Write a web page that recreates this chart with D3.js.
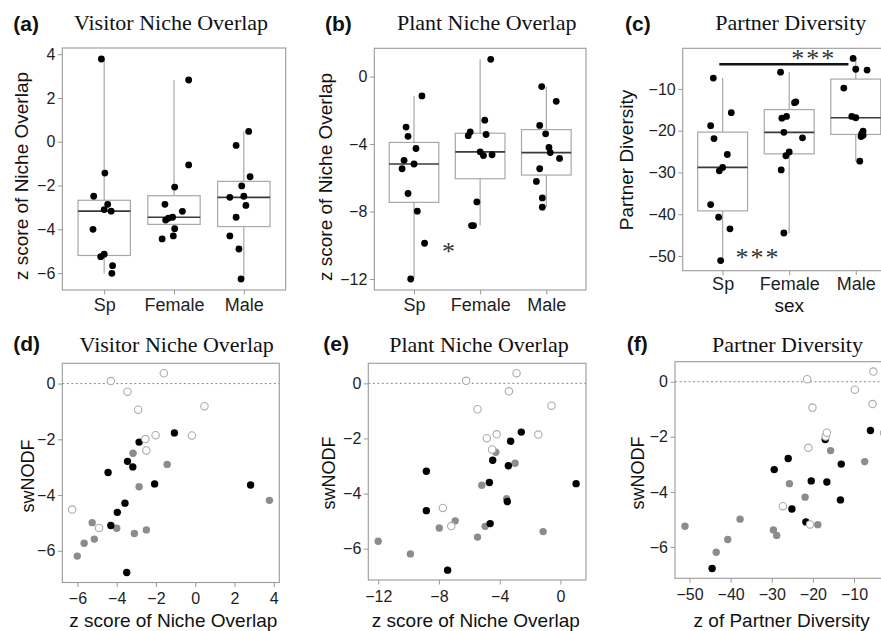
<!DOCTYPE html>
<html><head><meta charset="utf-8">
<script src="https://cdn.jsdelivr.net/npm/d3@7"></script>
<style>body{margin:0;background:#fff} svg{display:block;background:#fff}</style>
</head><body>
<svg id="chart" width="881" height="631"></svg>
<script>
// ---------------- DATA ----------------
const groups = ["Sp", "Female", "Male"];
const sexLabels = ["Sp", "Female", "Male"];

// Sp (grey points in the lower panels)
const spVisitor = [-3.17, -1.43, -2.86, 3.78, -5.25, -4.00, -2.49, -3.10, -5.14, -5.66, -6.01];
const spPlant   = [-4.26, -2.99, -5.18, -3.54, -6.93, -4.96, -7.98, -1.14, -5.46, -12.0, -9.88];
const spPartner = [-15.7, -7.4, -25.7, -21.9, -37.7, -18.8, -51.1, -29.6, -28.8, -40.7, -43.5];
const spSwnodf  = [-2.50, -2.90, -3.70, -4.19, -4.99, -5.19, -5.25, -5.38, -5.58, -5.73, -6.19];
const spJitA = [0.10, 0.01, 0.05, -0.04, -0.05, -0.16, -0.15, 0.00, 0.00, 0.12, 0.11];
const spJitB = [0.03, -0.12, 0.00, -0.09, -0.09, -0.15, 0.05, 0.12, -0.18, -0.05, 0.16];
const spJitC = [0.13, -0.14, 0.07, -0.13, -0.18, -0.18, -0.03, -0.05, 0.00, -0.06, 0.11];

// Female (black points)
const femVisitor = [-1.06, -2.86, -3.45, -3.18, -4.44, -2.07, 2.82, -3.58, -3.97, -4.30, -3.49];
const femPlant   = [-2.58, -3.28, -4.46, -3.43, -8.83, -4.68, 1.03, -3.50, -8.83, -4.63, -7.43];
const femPartner = [-6.0, -17.0, -26.0, -13.1, -29.4, -20.4, -16.6, -13.3, -25.1, -21.7, -44.5];
const femSwnodf  = [-1.77, -2.10, -2.79, -2.99, -3.19, -3.60, -3.64, -4.29, -4.62, -5.09, -6.78];
const femJitA = [0.21, -0.13, -0.02, 0.12, -0.17, 0.01, 0.21, -0.12, 0.01, -0.01, -0.08];
const femJitB = [0.07, -0.15, 0.00, 0.09, -0.13, 0.05, 0.16, -0.18, -0.10, 0.18, -0.05];
const femJitC = [-0.13, -0.11, -0.05, 0.10, -0.12, -0.08, -0.04, 0.08, 0.00, 0.20, -0.08];

// Male (open points)
const maleVisitor = [-4.30, -1.60, -3.45, -2.91, 0.47, -2.54, -2.02, -0.17, -2.49, -6.27, -4.90];
const malePlant   = [-6.21, -2.89, -3.39, -5.46, -0.59, -4.85, -4.20, -1.46, -4.50, -7.74, -7.19];
const malePartner = [-21.4, -5.3, -9.8, -20.1, -5.5, -16.9, -16.6, -2.7, -21.1, -27.3, -20.7];
const maleSwnodf  = [0.09, 0.37, -0.29, -0.94, -0.81, -1.99, -1.85, -1.86, -2.40, -4.52, -5.18];
const maleJitA = [-0.20, 0.09, -0.11, 0.03, 0.07, -0.20, -0.03, -0.11, 0.00, -0.04, -0.07];
const maleJitB = [-0.15, -0.10, -0.01, -0.10, -0.07, 0.20, 0.04, 0.15, 0.06, -0.06, -0.06];
const maleJitC = [0.08, 0.00, -0.18, 0.11, 0.17, 0.00, -0.06, -0.04, 0.11, 0.06, 0.09];

// tick labels
const ticksA = [4, 2, 0, -2, -4, -6];
const ticksB = [0, -4, -8, -12];
const ticksC = [-10, -20, -30, -40, -50];
const ticksSw = [0, -2, -4, -6];
const ticksD = [-6, -4, -2, 0, 2, 4];
const ticksE = [-12, -8, -4, 0];
const ticksF = [-50, -40, -30, -20, -10];

// significance annotations (category-index units, data values)
const sigBars = [{panel: "c", from: -0.05, to: 1.89, value: -4.1}];
const sigStars = [
  {panel: "b", text: "*",   pos: 0.52, value: -10.9},
  {panel: "c", text: "***", pos: 1.37, value: -4.85},
  {panel: "c", text: "***", pos: 0.53, value: -52.4}
];

// ---------------- BUILD ----------------
const groupData = {
  Sp:     {visitor: spVisitor, plant: spPlant, partner: spPartner, swnodf: spSwnodf,
           jit: {visitor: spJitA, plant: spJitB, partner: spJitC}},
  Female: {visitor: femVisitor, plant: femPlant, partner: femPartner, swnodf: femSwnodf,
           jit: {visitor: femJitA, plant: femJitB, partner: femJitC}},
  Male:   {visitor: maleVisitor, plant: malePlant, partner: malePartner, swnodf: maleSwnodf,
           jit: {visitor: maleJitA, plant: maleJitB, partner: maleJitC}}
};
const pointStyle = {
  Sp:     {fill: "#8c8c8c", stroke: "none", sw: 0},
  Female: {fill: "#000000", stroke: "none", sw: 0},
  Male:   {fill: "#ffffff", stroke: "#ababab", sw: 1.1}
};

const SANS = "'Liberation Sans', Arial, sans-serif";
const SERIF = "'Liberation Serif', 'Times New Roman', serif";
const svg = d3.select("#chart");

function expand(ext) { const r = ext[1] - ext[0]; return [ext[0] - 0.05 * r, ext[1] + 0.05 * r]; }
function allValues(key) { return groups.flatMap(g => groupData[g][key]); }
function styleAxis(sel, size) {
  sel.select(".domain").remove();
  sel.attr("font-family", SANS).attr("font-size", size);
  sel.selectAll(".tick line").attr("stroke", "#9a9a9a").attr("stroke-width", 1);
  sel.selectAll(".tick text").attr("fill", "#1e1e1e");
}
function border(g, b) {
  g.append("rect").attr("x", b.x0).attr("y", b.y0).attr("width", b.x1 - b.x0).attr("height", b.y1 - b.y0)
    .attr("fill", "none").attr("stroke", "#9a9a9a").attr("stroke-width", 1.1);
}
function headers(g, p, titleY, labelY) {
  g.append("text").attr("x", p.titleX).attr("y", titleY).attr("text-anchor", "middle")
    .attr("font-family", SERIF).attr("font-size", 22).attr("fill", "#111").text(p.title);
  g.append("text").attr("x", p.labelX).attr("y", labelY).attr("font-family", SANS)
    .attr("font-weight", "bold").attr("font-size", 21).attr("fill", "#111").text("(" + p.id + ")");
  g.append("text").attr("transform", `translate(${p.yTitlePos[0]},${p.yTitlePos[1]}) rotate(-90)`)
    .attr("text-anchor", "middle").attr("dy", "0.35em").attr("font-family", SANS)
    .attr("font-size", p.yTitleSize || 19).attr("fill", "#111").text(p.yTitle);
}

const topPanels = [
  {id: "a", key: "visitor", box: {x0: 62.3, x1: 285.7, y0: 48, y1: 290}, ticks: ticksA,
   title: "Visitor Niche Overlap", titleX: 171, labelX: 13.3, xPad: 3.5,
   yTitle: "z score of Niche Overlap", yTitlePos: [21.7, 176]},
  {id: "b", key: "plant", box: {x0: 374.3, x1: 586, y0: 48.3, y1: 290}, ticks: ticksB,
   title: "Plant Niche Overlap", titleX: 486.7, labelX: 325, xPad: 3.5,
   yTitle: "z score of Niche Overlap", yTitlePos: [325, 177]},
  {id: "c", key: "partner", box: {x0: 682.7, x1: 895.7, y0: 48.3, y1: 270.7}, ticks: ticksC,
   title: "Partner Diversity", titleX: 790.8, labelX: 625, xPad: 2.5,
   yTitle: "Partner Diversity", yTitlePos: [626.7, 160], xTitle: "sex", xTitleY: 312}
];

const bottomPanels = [
  {id: "d", key: "visitor", box: {x0: 62.3, x1: 279.3, y0: 363.3, y1: 582.5}, ticks: ticksD,
   title: "Visitor Niche Overlap", titleX: 176.7, labelX: 13.3,
   xTitle: "z score of Niche Overlap", xTitleX: 173.3, yTitle: "swNODF", yTitlePos: [27.5, 476], yTitleSize: 18},
  {id: "e", key: "plant", box: {x0: 368.3, x1: 586, y0: 363.3, y1: 580}, ticks: ticksE,
   title: "Plant Niche Overlap", titleX: 479, labelX: 323.3,
   xTitle: "z score of Niche Overlap", xTitleX: 475.8, yTitle: "swNODF", yTitlePos: [329, 473], yTitleSize: 18},
  {id: "f", key: "partner", box: {x0: 675, x1: 894, y0: 361.7, y1: 578.3}, ticks: ticksF,
   title: "Partner Diversity", titleX: 787.5, labelX: 626.7,
   xTitle: "z of Partner Diversity", xTitleX: 781.7, yTitle: "swNODF", yTitlePos: [637.5, 473], yTitleSize: 18}
];

// ---- top: box plots with jittered points ----
topPanels.forEach(p => {
  const g = svg.append("g");
  const b = p.box;
  const y = d3.scaleLinear().domain(expand(d3.extent(allValues(p.key)))).range([b.y1, b.y0]);
  const x = d3.scalePoint().domain(groups).range([b.x0, b.x1]).padding(0.6);
  const step = x.step();

  const ya = g.append("g").attr("transform", `translate(${b.x0},0)`)
    .call(d3.axisLeft(y).tickValues(p.ticks).tickSize(4.5).tickPadding(2.5));
  styleAxis(ya, 16);
  const xa = g.append("g").attr("transform", `translate(0,${b.y1})`)
    .call(d3.axisBottom(x).tickFormat((d, i) => sexLabels[i]).tickSize(4.5).tickPadding(p.xPad));
  styleAxis(xa, 18);

  groups.forEach(gr => {
    const vals = groupData[gr][p.key].slice().sort(d3.ascending);
    const q1 = d3.quantile(vals, 0.25), med = d3.quantile(vals, 0.5), q3 = d3.quantile(vals, 0.75);
    const lo = vals[0], hi = vals[vals.length - 1];
    const cx = x(gr), bw = 0.75 * step;
    g.append("line").attr("x1", cx).attr("x2", cx).attr("y1", y(hi)).attr("y2", y(q3))
      .attr("stroke", "#a8a8a8").attr("stroke-width", 1.2);
    g.append("line").attr("x1", cx).attr("x2", cx).attr("y1", y(q1)).attr("y2", y(lo))
      .attr("stroke", "#a8a8a8").attr("stroke-width", 1.2);
    g.append("rect").attr("x", cx - bw / 2).attr("y", y(q3)).attr("width", bw).attr("height", y(q1) - y(q3))
      .attr("fill", "#fff").attr("stroke", "#a8a8a8").attr("stroke-width", 1.2);
    g.append("line").attr("x1", cx - bw / 2).attr("x2", cx + bw / 2).attr("y1", y(med)).attr("y2", y(med))
      .attr("stroke", "#3a3a3a").attr("stroke-width", 1.7);
  });

  groups.forEach(gr => {
    const vals = groupData[gr][p.key], jit = groupData[gr].jit[p.key];
    g.selectAll(null).data(vals).join("circle")
      .attr("cx", (d, i) => x(gr) + jit[i] * step)
      .attr("cy", d => y(d)).attr("r", 3.4).attr("fill", "#000");
  });

  border(g, b);
  headers(g, p, 30, 31);
  if (p.xTitle) {
    g.append("text").attr("x", (b.x0 + b.x1) / 2).attr("y", p.xTitleY).attr("text-anchor", "middle")
      .attr("font-family", SANS).attr("font-size", 19).attr("fill", "#111").text(p.xTitle);
  }

  sigBars.filter(s => s.panel === p.id).forEach(s => {
    g.append("line").attr("x1", x(groups[0]) + s.from * step).attr("x2", x(groups[0]) + s.to * step)
      .attr("y1", y(s.value)).attr("y2", y(s.value)).attr("stroke", "#111").attr("stroke-width", 2.4);
  });
  sigStars.filter(s => s.panel === p.id).forEach(s => {
    g.append("text").attr("x", x(groups[0]) + s.pos * step).attr("y", y(s.value))
      .attr("text-anchor", "middle").attr("font-family", SERIF).attr("font-size", 26)
      .attr("letter-spacing", s.text.length > 1 ? 2 : 0)
      .attr("fill", "#333").text(s.text);
  });
});

// ---- bottom: scatter plots ----
const ySw = expand(d3.extent(allValues("swnodf")));
bottomPanels.forEach(p => {
  const g = svg.append("g");
  const b = p.box;
  const x = d3.scaleLinear().domain(expand(d3.extent(allValues(p.key)))).range([b.x0, b.x1]);
  const y = d3.scaleLinear().domain(ySw).range([b.y1, b.y0]);

  const ya = g.append("g").attr("transform", `translate(${b.x0},0)`)
    .call(d3.axisLeft(y).tickValues(ticksSw).tickSize(4.5).tickPadding(2.5));
  styleAxis(ya, 16);
  const xa = g.append("g").attr("transform", `translate(0,${b.y1})`)
    .call(d3.axisBottom(x).tickValues(p.ticks).tickSize(4.5).tickPadding(6));
  styleAxis(xa, 16);

  g.append("line").attr("x1", b.x0).attr("x2", b.x1).attr("y1", y(0)).attr("y2", y(0))
    .attr("stroke", "#8a8a8a").attr("stroke-width", 1).attr("stroke-dasharray", "2,2.5");

  groups.forEach(gr => {
    const d = groupData[gr], st = pointStyle[gr];
    g.selectAll(null).data(d[p.key]).join("circle")
      .attr("cx", v => x(v)).attr("cy", (v, i) => y(d.swnodf[i])).attr("r", 3.7)
      .attr("fill", st.fill).attr("stroke", st.stroke).attr("stroke-width", st.sw);
  });

  border(g, b);
  headers(g, p, 352, 351);
  g.append("text").attr("x", p.xTitleX).attr("y", 626.5).attr("text-anchor", "middle")
    .attr("font-family", SANS).attr("font-size", 19).attr("fill", "#111").text(p.xTitle);
});
</script>
</body></html>
